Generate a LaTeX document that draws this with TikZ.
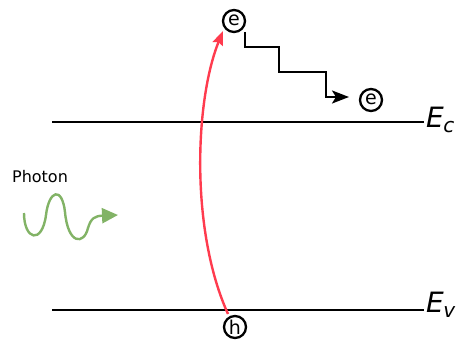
\documentclass[tikz,border=0pt]{standalone}
\usepackage{fontspec}
\setmainfont{DejaVu Sans}
\usetikzlibrary{arrows.meta}
\definecolor{wavegreen}{HTML}{82B366}
\definecolor{redarrow}{HTML}{FF3B4E}
\tikzset{
  x=1pt, y=-1pt,
  band/.style={line width=2.4pt, draw=black},
  carrier/.style={circle, draw, line width=2.3pt, minimum size=22pt, inner sep=0pt, font=\fontsize{19}{19}\selectfont},
  blabel/.style={anchor=west, inner sep=0pt, font=\fontsize{28}{28}\selectfont\itshape},
}
\begin{document}
\begin{tikzpicture}
\useasboundingbox (0,0) rectangle (456,345);
% bands
\coordinate (ecl) at (52,122);
\coordinate (ecr) at (424,122);
\coordinate (evl) at (52,310);
\coordinate (evr) at (424,310);
\draw[band] (ecl) -- (ecr);
\draw[band] (evl) -- (evr);
\node[blabel] (ec) at (426,120) {E\kern-0.5pt\raisebox{-0.35ex}{\fontsize{20}{20}\selectfont c}};
\node[blabel] (ev) at (426,305) {E\kern-0.5pt\raisebox{-0.35ex}{\fontsize{20}{20}\selectfont v}};
% carriers
\node[carrier] (e1) at (234,21) {\raisebox{0.15ex}{e}};
\node[carrier] (e2) at (371,100) {\raisebox{0.15ex}{e}};
\node[carrier] (h) at (235,327) {h};
% excitation arrow
\coordinate (hs) at (228,314);
\coordinate (et) at (223,31);
\draw[redarrow, line width=2.4pt, -{Stealth[length=14pt,width=11pt,inset=2pt]}] (hs) .. controls (190,230) and (195,100) .. (et);
% relaxation staircase
\coordinate (s0) at (245,32);
\coordinate (tip) at (349,97);
\draw[line width=2.4pt, -{Stealth[length=17pt,width=13pt,inset=4pt]}] (s0) -- (245,47) -- (279,47) -- (279,72) -- (326,72) -- (326,97) -- (tip);
% photon
\node[font=\fontsize{16}{16}\selectfont] (ph) at (40,177) {Photon};
\coordinate (w0) at (24,213);
\coordinate (w1) at (118,215);
\draw[wavegreen, line width=2.4pt, -{Stealth[length=16pt,width=15pt,inset=0pt]}]
  (w0) .. controls (24,240) and (42,245) .. (46,215)
  .. controls (49,190) and (62,186) .. (65,212)
  .. controls (68,245) and (84,245) .. (88,228)
  .. controls (91,218) and (95,216) .. (w1);
\end{tikzpicture}
\end{document}
